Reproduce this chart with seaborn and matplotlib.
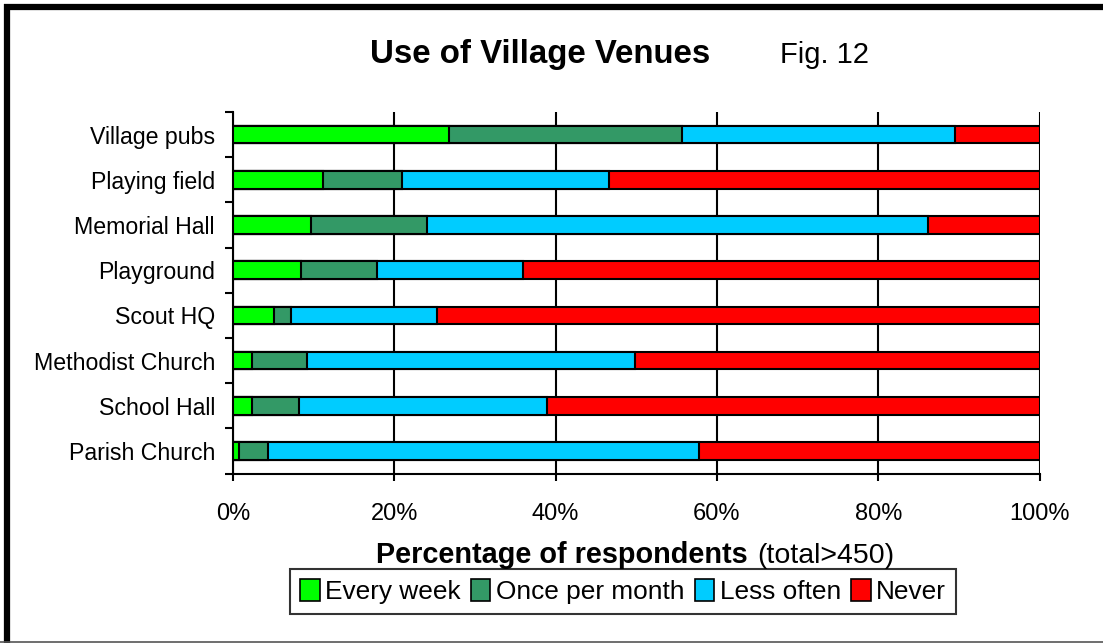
import matplotlib
matplotlib.use("Agg")
import matplotlib.pyplot as plt
import seaborn as sns
import numpy as np
from matplotlib.patches import Patch
from matplotlib.lines import Line2D

venues = ["Village pubs", "Playing field", "Memorial Hall", "Playground",
          "Scout HQ", "Methodist Church", "School Hall", "Parish Church"]
series_names = ["Every week", "Once per month", "Less often", "Never"]
every_week = [26.8, 11.2, 9.7, 8.4, 5.1, 2.4, 2.4, 0.7]
once_per_month = [28.9, 9.7, 14.4, 9.4, 2.1, 6.8, 5.8, 3.6]
less_often = [33.8, 25.7, 62.1, 18.1, 18.1, 40.7, 30.7, 53.5]
never = [10.5, 53.4, 13.8, 64.1, 74.7, 50.1, 61.1, 42.2]
x_ticks = [0, 20, 40, 60, 80, 100]
x_tick_labels = ["0%", "20%", "40%", "60%", "80%", "100%"]
colors = ["#00FF00", "#339966", "#00CCFF", "#FF0000"]

sns.set_style("white")
plt.rcParams["font.family"] = ["Liberation Sans", "DejaVu Sans"]
plt.rcParams["text.color"] = "black"
plt.rcParams["xtick.color"] = "black"
plt.rcParams["ytick.color"] = "black"

W, H = 1103, 643
fig = plt.figure(figsize=(W / 100, H / 100), dpi=100)
ax = fig.add_axes([233 / W, 1 - 473.5 / H, (1039.5 - 233) / W, (473.5 - 112) / H])

series = [every_week, once_per_month, less_often, never]
cum = np.cumsum(np.array(series), axis=0)
for i in range(3, -1, -1):
    sns.barplot(x=cum[i], y=venues, order=venues, orient="h", color=colors[i],
                saturation=1, width=0.39, edgecolor="black", linewidth=1.5,
                ax=ax, zorder=3)

ax.set_xlim(0, 100)
ax.set_ylim(7.5, -0.5)
ax.set_xticks(x_ticks)
ax.set_xticklabels(x_tick_labels, fontsize=17)
ax.tick_params(axis="x", which="major", length=5, width=1.5, color="black",
               labelcolor="black", pad=16, direction="out", bottom=True)
ax.tick_params(axis="y", which="major", length=0, pad=13, labelsize=16.7,
               labelcolor="black")
ax.set_yticks(np.arange(-0.5, 8.0, 1.0), minor=True)
ax.tick_params(axis="y", which="minor", length=5.8, width=1.5, color="black",
               direction="out", left=True)
ax.xaxis.grid(True, color="black", linewidth=1.5, zorder=0)
ax.yaxis.grid(False)
ax.set_axisbelow(True)
for s in ["top", "right"]:
    ax.spines[s].set_visible(False)
for s in ["left", "bottom"]:
    ax.spines[s].set_color("black")
    ax.spines[s].set_linewidth(1.5)
ax.set_xlabel("")
ax.set_ylabel("")

# Title
fig.text(370 / W, 1 - 63 / H, "Use of Village Venues", fontsize=23.8, fontweight="bold",
         ha="left", va="baseline", color="black")
fig.text(780 / W, 1 - 63 / H, "Fig. 12", fontsize=21, ha="left", va="baseline",
         color="black")

# X label
fig.text(376 / W, 1 - 563 / H, "Percentage of respondents", fontsize=20.8,
         fontweight="bold", ha="left", va="baseline", color="black")
fig.text(757 / W, 1 - 563 / H, "(total>450)", fontsize=20.5, ha="left",
         va="baseline", color="black")

# Legend
handles = [Patch(facecolor=c, edgecolor="black", linewidth=1.2) for c in colors]
leg = fig.legend(handles, series_names, loc="center", ncol=4,
                 bbox_to_anchor=(623 / W, 1 - 591.5 / H), fontsize=18.9,
                 frameon=True, fancybox=False, edgecolor="black",
                 handlelength=0.75, handleheight=0.9, handletextpad=0.2,
                 columnspacing=0.4, borderpad=0.38, borderaxespad=0,
                 labelcolor="black")
leg.get_frame().set_linewidth(1.5)

# Figure frame
fig.add_artist(Line2D([7 / W, 7 / W], [1 - 4 / H, 0], transform=fig.transFigure,
                      color="black", linewidth=4.5, solid_capstyle="butt"))
fig.add_artist(Line2D([4 / W, 1], [1 - 7 / H, 1 - 7 / H], transform=fig.transFigure,
                      color="black", linewidth=4.5, solid_capstyle="butt"))
fig.add_artist(Line2D([0, 1], [1 - 641.5 / H, 1 - 641.5 / H], transform=fig.transFigure,
                      color="#555555", linewidth=1.2))

fig.savefig("out.png", dpi=100, facecolor="white")
